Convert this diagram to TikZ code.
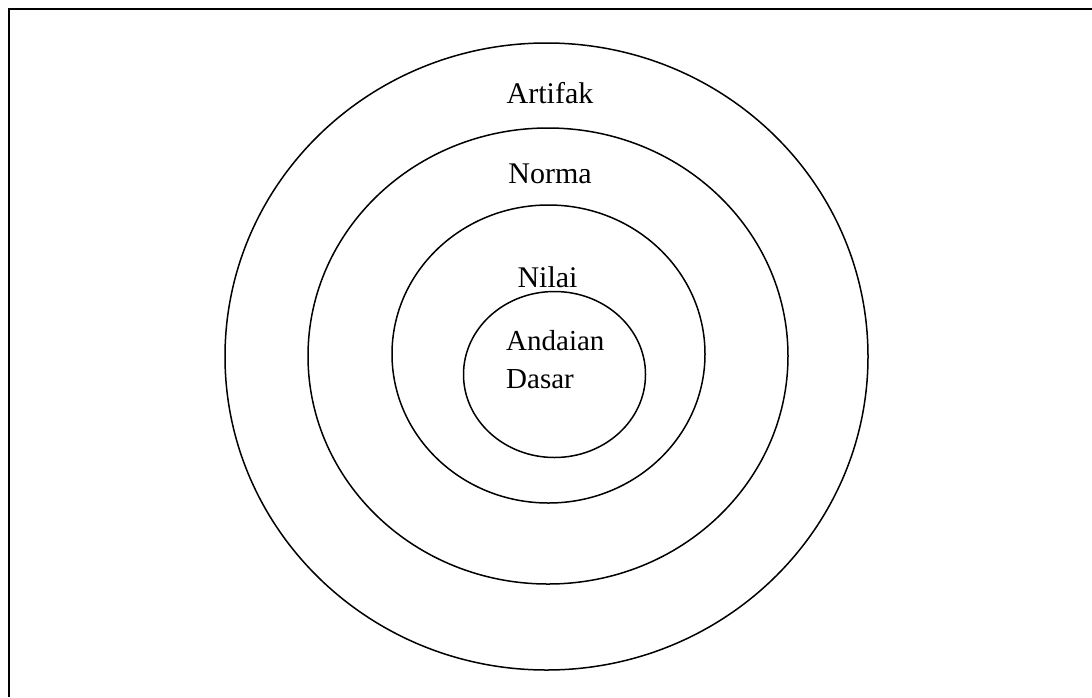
\documentclass[tikz,border=0pt]{standalone}
\usepackage{fontspec}
\setmainfont{Liberation Serif}
\begin{document}
\begin{tikzpicture}[x=1pt,y=-1pt,
  ring/.style={draw=black,line width=1.5pt},
  frame/.style={draw=black,line width=2pt},
  lbl/.style={inner sep=0pt,font=\fontsize{30}{36}\selectfont}]
\useasboundingbox (0,0) rectangle (1092,697);
\fill[white] (0,0) rectangle (1092,697);
% frame (top and left edges)
\coordinate (fbl) at (9,697);
\coordinate (ftl) at (9,8.5);
\coordinate (ftr) at (1092,8.5);
\draw[frame] (fbl) -- (ftl) -- (ftr);
% rings
\draw[ring] (546.5,356.5) ellipse [x radius=321.5, y radius=313.5];
\draw[ring] (548,356) ellipse [x radius=240, y radius=228];
\draw[ring] (548.5,354) ellipse [x radius=156.5, y radius=149];
\draw[ring] (554.5,374.5) ellipse [x radius=91, y radius=83];
% labels
\node[lbl,anchor=base] (artifak) at (550,103) {Artifak};
\node[lbl,anchor=base] (norma) at (550,183) {Norma};
\node[lbl,anchor=base] (nilai) at (547.5,287) {Nilai};
\node[lbl,anchor=base west,font=\fontsize{29}{36}\selectfont] (andaian) at (506,350) {Andaian};
\node[lbl,anchor=base west,font=\fontsize{29}{36}\selectfont] (dasar) at (506,388) {Dasar};
\end{tikzpicture}
\end{document}
